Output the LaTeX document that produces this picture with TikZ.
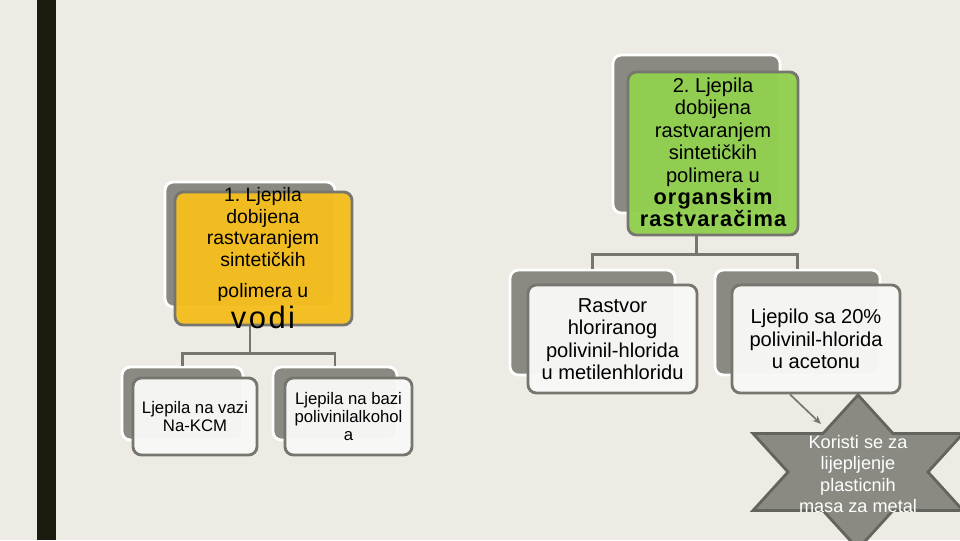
\documentclass[tikz,border=0pt]{standalone}
\usepackage{fontspec}
\setmainfont{Liberation Sans}
\usetikzlibrary{arrows.meta}
\frenchspacing

\definecolor{paper}{RGB}{238,235,228}
\definecolor{barcol}{RGB}{27,27,14}
\definecolor{backgray}{RGB}{138,138,130}
\definecolor{linegray}{RGB}{118,118,110}
\definecolor{glueyellow}{RGB}{245,190,30}
\definecolor{gluegreen}{RGB}{146,208,80}
\definecolor{boxwhite}{RGB}{248,248,246}
\definecolor{stardraw}{RGB}{100,100,94}

\begin{document}
\begin{tikzpicture}[x=0.025cm, y=-0.025cm,
    back/.style={draw=white, line width=2pt, fill=backgray, rounded corners=6pt},
    front/.style={draw=linegray, line width=2pt, rounded corners=6pt,
        fill opacity=0.97, text opacity=1, align=center, inner sep=0pt},
    conn/.style={draw=linegray, line width=2pt},
    bigtext/.style={align=center, font=\fontsize{14.3}{15.9}\selectfont},
    smalltext/.style={font=\fontsize{11.9}{12.8}\selectfont},
    startext/.style={align=center, text=white, font=\fontsize{12.9}{15}\selectfont}]

    \fill[paper] (0,0) rectangle (960,540);
    \clip (0,0) rectangle (960,540);
    \fill[barcol] (37,0) rectangle (56,540);

    % main boxes
    \node[back, minimum width=4.25cm, minimum height=3.125cm] (b1) at (250,244.5) {};
    \node[front, fill=glueyellow, minimum width=4.425cm, minimum height=3.325cm] (f1) at (263.5,258.5) {};
    \node[bigtext, font=\fontsize{13.8}{15.6}\selectfont] (t1) at (263,258)
        {1. Ljepila\\dobijena\\rastvaranjem\\sintetičkih\\[6pt]polimera u\\[2.5pt]
         {\fontsize{22}{22}\selectfont\addfontfeature{LetterSpace=8}vodi}};

    \node[back, minimum width=4.175cm, minimum height=3.95cm] (b2) at (696.5,134) {};
    \node[front, fill=gluegreen, minimum width=4.25cm, minimum height=4.075cm] (f2) at (713,153.5) {};
    \node[bigtext] (t2) at (713,152.5)
        {2. Ljepila\\dobijena\\rastvaranjem\\sintetičkih\\polimera u\\
         {\fontsize{15.5}{17.6}\selectfont\bfseries\addfontfeature{LetterSpace=5}organskim}\\
         {\fontsize{15.5}{17.6}\selectfont\bfseries\addfontfeature{LetterSpace=5}rastvaračima}};

    % children of box 1
    \node[back, minimum width=3.025cm, minimum height=1.825cm] (b11) at (182.5,403.5) {};
    \node[front, fill=boxwhite, smalltext, minimum width=3.1cm, minimum height=1.925cm] (f11) at (195,416.5)
        {Ljepila na vazi\\Na-KCM};
    \node[back, minimum width=3.1cm, minimum height=1.825cm] (b12) at (335,403.5) {};
    \node[front, fill=boxwhite, smalltext, minimum width=3.175cm, minimum height=1.925cm] (f12) at (348.5,416.5)
        {Ljepila na bazi\\polivinilalkohol\\a};

    % children of box 2
    \node[back, minimum width=4.125cm, minimum height=2.625cm] (b21) at (592.5,322.5) {};
    \node[front, fill=boxwhite, bigtext, minimum width=4.225cm, minimum height=2.7cm] (f21) at (612.5,339)
        {Rastvor\\hloriranog\\polivinil-hlorida\\u metilenhloridu};
    \node[back, minimum width=4.125cm, minimum height=2.625cm] (b22) at (797.5,322.5) {};
    \node[front, fill=boxwhite, bigtext, minimum width=4.2cm, minimum height=2.7cm] (f22) at (816,339)
        {Ljepilo sa 20\%\\polivinil-hlorida\\u acetonu};

    % connectors
    \draw[conn] (b1.south |- f1.south) -- ++(0,27) coordinate (j1) -| (b11.north);
    \draw[conn] (j1) -| (b12.north);
    \draw[conn] (b2.south |- f2.south) -- ++(0,18) coordinate (j2) -| (b21.north);
    \draw[conn] (j2) -| (b22.north);

    % star
    \filldraw[fill=backgray, draw=stardraw, line width=2pt]
        (858,395) -- (893,433.5) -- (963,433.5) -- (928,472) -- (963,510.5)
        -- (893,510.5) -- (858,549) -- (823,510.5) -- (753,510.5) -- (788,472)
        -- (753,433.5) -- (823,433.5) -- cycle;
    \node[startext] (star) at (858,474)
        {Koristi se za\\lijepljenje\\plasticnih\\masa za metal};

    \coordinate (tip) at (821,424);
    \draw[conn, line width=1.2pt, -{Stealth[length=6pt,width=5pt]}] ([xshift=-0.65cm]f22.south) -- (tip);
\end{tikzpicture}
\end{document}
